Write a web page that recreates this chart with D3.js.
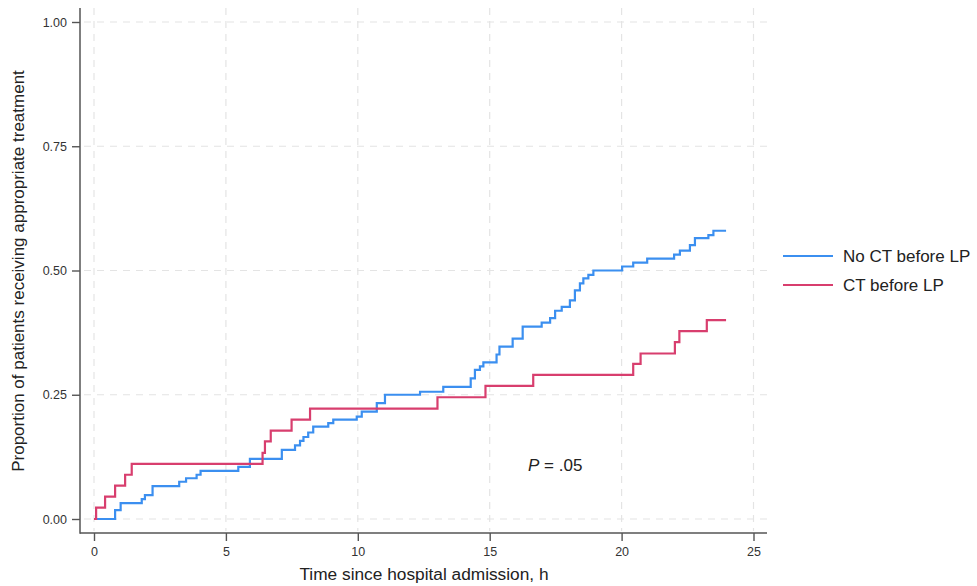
<!DOCTYPE html>
<html>
<head>
<meta charset="utf-8">
<script src="https://cdn.jsdelivr.net/npm/d3@7"></script>
<style>
  body { margin: 0; background: #fff; }
  svg { font-family: "Liberation Sans", Arial, sans-serif; }
</style>
</head>
<body>
<div id="chart"></div>
<script>
// series (step functions, value after each step)
var noCtTimes = [0, 0.80, 1.01, 1.81, 1.93, 2.22, 3.23, 3.49, 3.89, 4.04, 5.47, 5.91, 7.12,
    7.62, 7.81, 7.94, 8.12, 8.31, 8.88, 9.07, 9.96, 10.15, 10.72, 11.03, 12.36, 13.24,
    14.28, 14.44, 14.63, 14.76, 15.26, 15.37, 15.87, 16.25, 16.97, 17.29, 17.48, 17.73,
    18.04, 18.23, 18.42, 18.55, 18.74, 18.93, 20.02, 20.44, 20.97, 21.99, 22.21, 22.59,
    22.78, 23.29, 23.48, 23.96];
var noCtProps = [0, 0.018, 0.032, 0.040, 0.048, 0.066, 0.075, 0.082, 0.089, 0.097, 0.105, 0.121, 0.139,
    0.148, 0.157, 0.165, 0.174, 0.186, 0.193, 0.200, 0.206, 0.216, 0.233, 0.250, 0.256, 0.266,
    0.283, 0.300, 0.307, 0.315, 0.331, 0.347, 0.363, 0.387, 0.395, 0.404, 0.419, 0.427,
    0.440, 0.460, 0.474, 0.484, 0.491, 0.500, 0.508, 0.516, 0.524, 0.532, 0.540, 0.551,
    0.565, 0.571, 0.580, 0.580];

var ctTimes = [0, 0.08, 0.42, 0.80, 1.18, 1.43, 6.39, 6.48, 6.70, 7.49, 8.19, 13.02, 14.84,
    16.65, 20.44, 20.72, 22.02, 22.19, 23.23, 23.96];
var ctProps = [0, 0.023, 0.045, 0.067, 0.089, 0.111, 0.133, 0.156, 0.178, 0.200, 0.222, 0.245, 0.268,
    0.290, 0.312, 0.333, 0.356, 0.378, 0.400, 0.400];

var seriesNames = ["No CT before LP", "CT before LP"];
var seriesColors = ["#3b8ff0", "#d83e6e"];
var xTicks = [0, 5, 10, 15, 20, 25];
var yTicks = [0, 0.25, 0.5, 0.75, 1];

var width = 977, height = 586;

var svg = d3.select("#chart").append("svg")
    .attr("width", width)
    .attr("height", height);

var x = d3.scaleLinear().domain([0, 25]).range([94, 753.5]);
var y = d3.scaleLinear().domain([0, 1]).range([519, 22]);

var axisX0 = 80, axisY0 = 533;

// grid
svg.append("g").selectAll("line.hg")
    .data(yTicks).enter().append("line")
        .attr("x1", axisX0 + 4).attr("x2", 767)
        .attr("y1", d => y(d)).attr("y2", d => y(d))
        .attr("stroke", "#e4e4e4").attr("stroke-width", 1.2)
        .attr("stroke-dasharray", "7,6");
svg.append("g").selectAll("line.vg")
    .data(xTicks).enter().append("line")
        .attr("x1", d => x(d)).attr("x2", d => x(d))
        .attr("y1", 8).attr("y2", axisY0 - 2)
        .attr("stroke", "#e4e4e4").attr("stroke-width", 1.2)
        .attr("stroke-dasharray", "7,6");

// axes
var yAxis = d3.axisLeft(y).tickValues(yTicks).tickFormat(d3.format(".2f")).tickSize(8).tickPadding(5);
var gy = svg.append("g").attr("transform", "translate(" + axisX0 + ",0)").call(yAxis);
var xAxis = d3.axisBottom(x).tickValues(xTicks).tickFormat(d3.format("d")).tickSize(8).tickPadding(6);
var gx = svg.append("g").attr("transform", "translate(0," + axisY0 + ")").call(xAxis);
[gx, gy].forEach(function(g) {
    g.select(".domain").remove();
    g.selectAll(".tick line").attr("stroke", "#555").attr("stroke-width", 1.4);
    g.selectAll(".tick text").attr("fill", "#333").style("font-size", "12.5px");
});
svg.append("line")
    .attr("x1", axisX0).attr("x2", axisX0).attr("y1", 8).attr("y2", axisY0 + 0.7)
    .attr("stroke", "#555").attr("stroke-width", 1.5);
svg.append("line")
    .attr("x1", axisX0).attr("x2", 767).attr("y1", axisY0).attr("y2", axisY0)
    .attr("stroke", "#555").attr("stroke-width", 1.5);

// axis titles
svg.append("text")
    .attr("x", 424).attr("y", 580)
    .attr("text-anchor", "middle")
    .attr("fill", "#222")
    .style("font-size", "17.3px")
    .text("Time since hospital admission, h");
svg.append("text")
    .attr("transform", "translate(24,271) rotate(-90)")
    .attr("text-anchor", "middle")
    .attr("fill", "#222")
    .style("font-size", "17px")
    .text("Proportion of patients receiving appropriate treatment");

// curves
var line = d3.line()
    .x(d => x(d[0]))
    .y(d => y(d[1]))
    .curve(d3.curveStepAfter);

var series = [
    d3.zip(noCtTimes, noCtProps),
    d3.zip(ctTimes, ctProps)
];

svg.append("g").selectAll("path")
    .data(series).enter().append("path")
        .attr("d", line)
        .attr("fill", "none")
        .attr("stroke", (d, i) => seriesColors[i])
        .attr("stroke-width", 2.2);

// annotation
var ann = svg.append("text")
    .attr("x", 528).attr("y", 471)
    .attr("fill", "#222")
    .style("font-size", "17px");
ann.append("tspan").style("font-style", "italic").text("P");
ann.append("tspan").text(" = .05");

// legend
var legend = svg.append("g").selectAll("g")
    .data(seriesNames).enter().append("g")
        .attr("transform", (d, i) => "translate(0," + (256 + i * 29) + ")");
legend.append("line")
    .attr("x1", 783).attr("x2", 833)
    .attr("stroke", (d, i) => seriesColors[i])
    .attr("stroke-width", 2.2);
legend.append("text")
    .attr("x", 843).attr("dy", "0.35em")
    .attr("fill", "#222")
    .style("font-size", "17px")
    .text(d => d);
</script>
</body>
</html>
